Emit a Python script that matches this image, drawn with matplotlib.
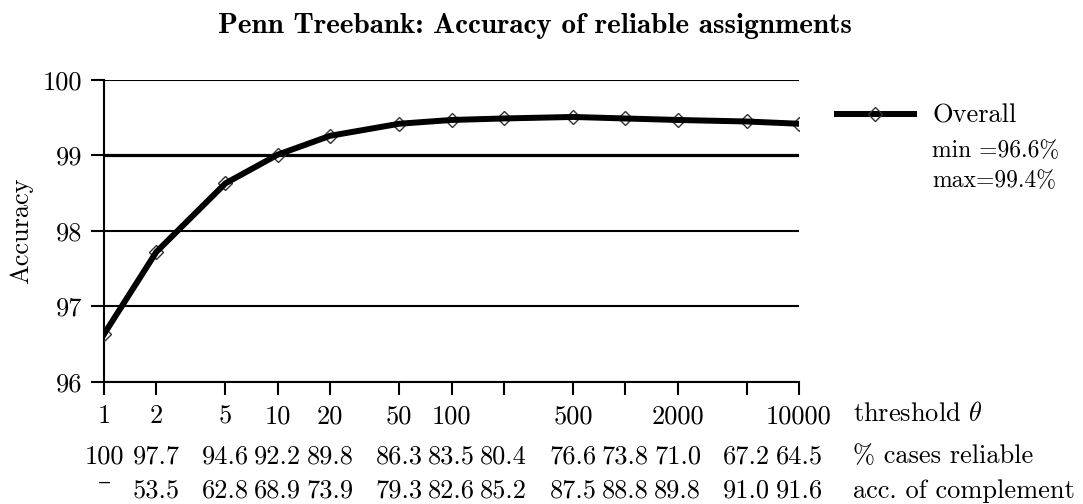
import matplotlib
matplotlib.use("Agg")
import matplotlib.pyplot as plt
from matplotlib.lines import Line2D
from matplotlib.transforms import blended_transform_factory

plt.rcParams['font.family'] = ['cmr10', 'DejaVu Serif']
plt.rcParams['mathtext.fontset'] = 'cm'
plt.rcParams['axes.formatter.use_mathtext'] = True

thresholds = [1, 2, 5, 10, 20, 50, 100, 200, 500, 1000, 2000, 5000, 10000]
tick_labels = ['1', '2', '5', '10', '20', '50', '100', '', '500', '', '2000', '', '10000']
accuracy = [96.63, 97.72, 98.63, 99.01, 99.26, 99.42, 99.47, 99.49, 99.51, 99.49, 99.47, 99.45, 99.42]
cases_reliable = ['100', '97.7', '94.6', '92.2', '89.8', '86.3', '83.5', '80.4',
                  '76.6', '73.8', '71.0', '67.2', '64.5']
acc_complement = ['\u2013', '53.5', '62.8', '68.9', '73.9', '79.3', '82.6', '85.2',
                  '87.5', '88.8', '89.8', '91.0', '91.6']

W, H = 1083, 504
fig = plt.figure(figsize=(W / 100, H / 100), dpi=100)
ax = fig.add_axes([104 / W, 1 - 381.7 / H, (799 - 104) / W, (381.7 - 80) / H])

# markers underneath, thick line on top
ax.plot(thresholds, accuracy, linestyle='none', marker='D', ms=7.5, mfc='none',
        mec='#333333', mew=1.0, zorder=3)
ax.plot(thresholds, accuracy, color='black', lw=4.3, zorder=4)

ax.set_xscale('log')
ax.set_xlim(1, 10000)
ax.set_ylim(96, 100)
ax.set_xticks(thresholds)
ax.set_xticklabels(tick_labels)
ax.xaxis.set_minor_locator(matplotlib.ticker.NullLocator())
ax.set_yticks([96, 97, 98, 99, 100])
ax.set_yticklabels(['96', '97', '98', '99', '100'])

ax.tick_params(axis='both', direction='out', length=9.4, width=1.5, labelsize=19, pad=6.5)
ax.tick_params(axis='x', pad=7)
ax.set_axisbelow(True)
ax.yaxis.grid(True, color='black', lw=1.5)
ax.get_ygridlines()[3].set_linewidth(2.3)
for s in ['top', 'right']:
    ax.spines[s].set_visible(False)
for s in ['left', 'bottom']:
    ax.spines[s].set_linewidth(1.5)

ax.set_ylabel('Accuracy', fontsize=19, labelpad=7)

# title: bold CM, sized so it spans roughly 211..859 px like the original
title = fig.suptitle('Penn Treebank: Accuracy of reliable assignments',
                     x=535 / W, y=1 - 33 / H, ha='center', va='baseline',
                     fontsize=19, fontfamily=['cmb10', 'DejaVu Serif'])
fig.canvas.draw()
tw = title.get_window_extent().width
title.set_fontsize(min(21.5, 19 * 635 / tw))

# table rows under the axis
tr = blended_transform_factory(ax.transData, fig.transFigure)
for x, v in zip(thresholds, cases_reliable):
    ax.text(x, 1 - 463 / H, v, transform=tr, ha='center', va='baseline', fontsize=19)
for x, v in zip(thresholds, acc_complement):
    base = 490 if v == '\u2013' else 498
    ax.text(x, 1 - base / H, v, transform=tr, ha='center', va='baseline', fontsize=19)

fig.text(853 / W, 1 - 421 / H, r'threshold $\theta$', ha='left', va='baseline', fontsize=19)
fig.text(853 / W, 1 - 463 / H, '% cases reliable', ha='left', va='baseline', fontsize=19)
fig.text(853 / W, 1 - 498 / H, 'acc. of complement', ha='left', va='baseline', fontsize=19)

# legend
h = Line2D([], [], color='black', lw=4.3, marker='D', ms=7.5, mfc='none', mec='#333333', mew=1.0)
ax.legend([h], ['Overall'], loc='center left', frameon=False,
          bbox_to_anchor=(837 / W, 1 - 116 / H), bbox_transform=fig.transFigure,
          borderpad=0, borderaxespad=0, handlelength=2.9, handletextpad=0.7,
          fontsize=19)
fig.text(932 / W, 1 - 157 / H, 'min =96.6%', ha='left', va='baseline', fontsize=17)
fig.text(932 / W, 1 - 187 / H, 'max=99.4%', ha='left', va='baseline', fontsize=17)

fig.savefig('out.png', dpi=100)
